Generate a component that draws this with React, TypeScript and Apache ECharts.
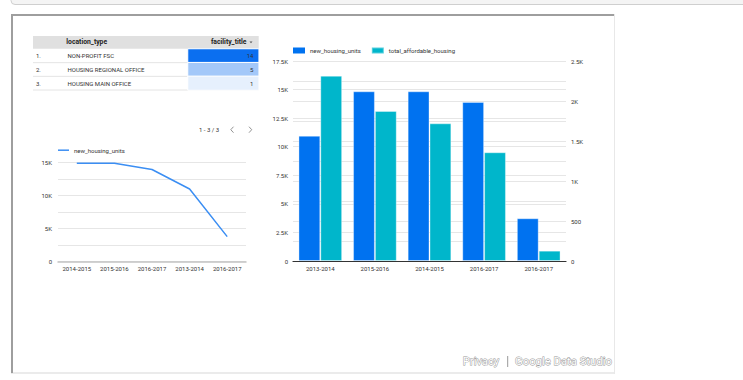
import React, { useEffect, useRef } from "react";
import * as echarts from "echarts";

// ---- data ----
const tableRows = ["NON-PROFIT FSC", "HOUSING REGIONAL OFFICE", "HOUSING MAIN OFFICE"];
const facilityCounts = [14, 5, 1];

const lineCategories = ["2014-2015", "2015-2016", "2016-2017", "2013-2014", "2016-2017"];
const lineNewHousing = [14850, 14850, 13910, 10960, 3740];

const barCategories = ["2013-2014", "2015-2016", "2014-2015", "2016-2017", "2016-2017"];
const barNewHousing = [10960, 14850, 14850, 13910, 3740];
const barAffordable = [2316, 1875, 1721, 1359, 129];

const FONT = "Roboto";
const FS = 6;

function fmtK(v: number): string {
  if (v === 0) return "0";
  if (Math.abs(v) >= 1000) return `${+(v / 1000).toFixed(1)}K`;
  return String(v);
}

export default function App() {
  const ref = useRef<HTMLDivElement>(null);

  useEffect(() => {
    if (!ref.current) return;
    const chart = echarts.init(ref.current, undefined, { renderer: "svg" });

    const rowTop = 49;
    const rowH = 13.67;
    const tblL = 33;
    const tblR = 258.7;

    const graphic: any[] = [
      // top strip
      {
        type: "rect",
        shape: { x: 11, y: -10, width: 760, height: 14.5, r: 4 },
        style: { fill: "#f4f4f4", stroke: "#cfcfcf", lineWidth: 1 },
      },
      // frame
      { type: "line", shape: { x1: 11, y1: 373, x2: 614.5, y2: 373 }, style: { stroke: "#ebebeb", lineWidth: 2 } },
      { type: "line", shape: { x1: 614.5, y1: 14, x2: 614.5, y2: 374 }, style: { stroke: "#e8e8e8", lineWidth: 1 } },
      { type: "line", shape: { x1: 11, y1: 15, x2: 614, y2: 15 }, style: { stroke: "#9e9e9e", lineWidth: 2 } },
      { type: "line", shape: { x1: 12, y1: 14, x2: 12, y2: 373 }, style: { stroke: "#9e9e9e", lineWidth: 2 } },
      // table header
      {
        type: "rect",
        shape: { x: tblL, y: 36, width: tblR - tblL, height: 12.7 },
        style: { fill: "#e0e0e0" },
      },
      {
        type: "text",
        x: 66.3,
        y: 42.3,
        style: { text: "location_type", font: `bold 6.8px ${FONT}`, fill: "#222", verticalAlign: "middle" },
      },
      {
        type: "text",
        x: 246.5,
        y: 42.3,
        style: { text: "facility_title", font: `bold 6.8px ${FONT}`, fill: "#222", align: "right", verticalAlign: "middle" },
      },
      {
        type: "polygon",
        shape: { points: [[249.5, 41.6], [252.5, 41.6], [251, 43.3]] },
        style: { fill: "#555" },
      },
      // pagination
      {
        type: "text",
        x: 199,
        y: 129.7,
        style: { text: "1 - 3 / 3", font: `${FS}px ${FONT}`, fill: "#333", verticalAlign: "middle" },
      },
      {
        type: "polyline",
        shape: { points: [[233.5, 126.7], [230.8, 129.7], [233.5, 132.7]] },
        style: { stroke: "#777", lineWidth: 0.8, fill: null },
      },
      {
        type: "polyline",
        shape: { points: [[249, 126.7], [251.7, 129.7], [249, 132.7]] },
        style: { stroke: "#777", lineWidth: 0.8, fill: null },
      },
      // footer
      {
        type: "text",
        x: 462.7,
        y: 361.7,
        style: {
          text: "Privacy",
          font: `11.3px ${FONT}`,
          fill: "#ffffff",
          stroke: "#969696",
          lineWidth: 0.9,
          verticalAlign: "middle",
        },
      },
      { type: "line", shape: { x1: 507.7, y1: 356, x2: 507.7, y2: 367 }, style: { stroke: "#999", lineWidth: 1 } },
      {
        type: "text",
        x: 515,
        y: 361.7,
        style: {
          text: "Google Data Studio",
          font: `11.3px ${FONT}`,
          fill: "#ffffff",
          stroke: "#969696",
          lineWidth: 0.9,
          verticalAlign: "middle",
        },
      },
    ];
    // row separators
    tableRows.forEach((_, i) => {
      const y = rowTop + rowH * (i + 1);
      graphic.push({
        type: "line",
        shape: { x1: tblL, y1: y, x2: tblR, y2: y },
        style: { stroke: "#e4e4e4", lineWidth: 1 },
      });
    });

    const axisLabelStyle = { fontSize: FS, color: "#333", fontFamily: FONT };

    chart.setOption({
      animation: false,
      textStyle: { fontFamily: FONT },
      graphic,
      legend: [
        {
          left: 58,
          top: 147.2,
          padding: 0,
          itemWidth: 11,
          itemHeight: 1.5,
          textStyle: { fontSize: FS, color: "#333" },
          data: [{ name: "new_housing_units", icon: "rect", itemStyle: { color: "#3b8ef3" } }],
        },
        {
          left: 293,
          top: 46.5,
          padding: 0,
          itemWidth: 12,
          itemHeight: 6,
          itemGap: 10,
          textStyle: { fontSize: FS, color: "#333" },
          data: [
            { name: "new_housing_units", icon: "rect", itemStyle: { color: "#0072f0" } },
            { name: "total_affordable_housing", icon: "rect", itemStyle: { color: "#00b6cb" } },
          ],
        },
      ],
      grid: [
        { left: 58, top: 162.3, width: 188, height: 99 },
        { left: 293, top: 61, width: 273, height: 200 },
        { left: 188, top: rowTop, width: tblR - 188, height: rowH * 3 },
      ],
      xAxis: [
        {
          type: "category",
          gridIndex: 0,
          data: lineCategories,
          axisLine: { lineStyle: { color: "#c4c4c4", width: 1.5 } },
          axisTick: { show: false },
          axisLabel: { ...axisLabelStyle, margin: 4, interval: 0 },
        },
        {
          type: "category",
          gridIndex: 1,
          data: barCategories,
          axisLine: { lineStyle: { color: "#333", width: 1.2 } },
          axisTick: { show: false },
          axisLabel: { ...axisLabelStyle, margin: 4, interval: 0 },
        },
        {
          type: "category",
          gridIndex: 2,
          data: ["facility_title"],
          show: false,
        },
      ],
      yAxis: [
        {
          type: "value",
          gridIndex: 0,
          min: 0,
          max: 15000,
          interval: 2500,
          axisLine: { show: false },
          axisTick: { show: false },
          axisLabel: {
            ...axisLabelStyle,
            margin: 6,
            formatter: (v: number) => (v % 5000 === 0 ? fmtK(v) : ""),
          },
          splitLine: { lineStyle: { color: "#e6e6e6", width: 1 } },
        },
        {
          type: "value",
          gridIndex: 1,
          position: "left",
          min: 0,
          max: 17500,
          interval: 2500,
          axisLine: { show: false },
          axisTick: { show: false },
          axisLabel: { ...axisLabelStyle, margin: 5, formatter: (v: number) => fmtK(v) },
          splitLine: { lineStyle: { color: "#e6e6e6", width: 1 } },
        },
        {
          type: "value",
          gridIndex: 1,
          position: "right",
          min: 0,
          max: 2500,
          interval: 250,
          axisLine: { show: false },
          axisTick: { show: false },
          axisLabel: {
            ...axisLabelStyle,
            margin: 5,
            formatter: (v: number) => (v % 500 === 0 ? fmtK(v) : ""),
          },
          splitLine: { lineStyle: { color: "#e6e6e6", width: 1 } },
        },
        {
          type: "category",
          gridIndex: 2,
          data: tableRows,
          inverse: true,
          axisLine: { show: false },
          axisTick: { show: false },
          splitLine: { show: false },
          axisLabel: {
            align: "left",
            margin: 152,
            interval: 0,
            formatter: (v: string, i: number) => `{n|${i + 1}.}{t|${v}}`,
            rich: {
              n: { width: 31.5, fontSize: FS, color: "#333", fontFamily: FONT },
              t: { fontSize: FS, color: "#333", fontFamily: FONT },
            },
          },
        },
      ],
      visualMap: {
        type: "continuous",
        show: false,
        seriesIndex: 3,
        min: 1,
        max: 14,
        inRange: { color: ["#e6f0fd", "#0b6ff0"] },
      },
      series: [
        {
          type: "line",
          name: "new_housing_units",
          xAxisIndex: 0,
          yAxisIndex: 0,
          data: lineNewHousing,
          showSymbol: false,
          symbol: "none",
          lineStyle: { color: "#3b8ef3", width: 1.5 },
          itemStyle: { color: "#3b8ef3" },
        },
        {
          type: "bar",
          name: "new_housing_units",
          xAxisIndex: 1,
          yAxisIndex: 1,
          data: barNewHousing,
          barGap: "0%",
          barCategoryGap: "20%",
          itemStyle: { color: "#0072f0", borderColor: "rgba(255,255,255,0.35)", borderWidth: 1 },
        },
        {
          type: "bar",
          name: "total_affordable_housing",
          xAxisIndex: 1,
          yAxisIndex: 2,
          data: barAffordable,
          barGap: "0%",
          barCategoryGap: "20%",
          itemStyle: { color: "#00b6cb", borderColor: "rgba(255,255,255,0.35)", borderWidth: 1 },
        },
        {
          type: "heatmap",
          name: "facility_title",
          xAxisIndex: 2,
          yAxisIndex: 3,
          data: facilityCounts.map((v, i) => [0, i, v]),
          itemStyle: { borderColor: "#ffffff", borderWidth: 1 },
          label: {
            show: true,
            position: "insideRight",
            distance: 6,
            fontSize: FS,
            color: "#333",
            fontFamily: FONT,
          },
          emphasis: { disabled: true },
        },
      ],
    });

    return () => chart.dispose();
  }, []);

  return (
    <div
      ref={ref}
      style={{ position: "absolute", left: 0, top: 0, width: 743, height: 380, background: "#fff" }}
    />
  );
}
